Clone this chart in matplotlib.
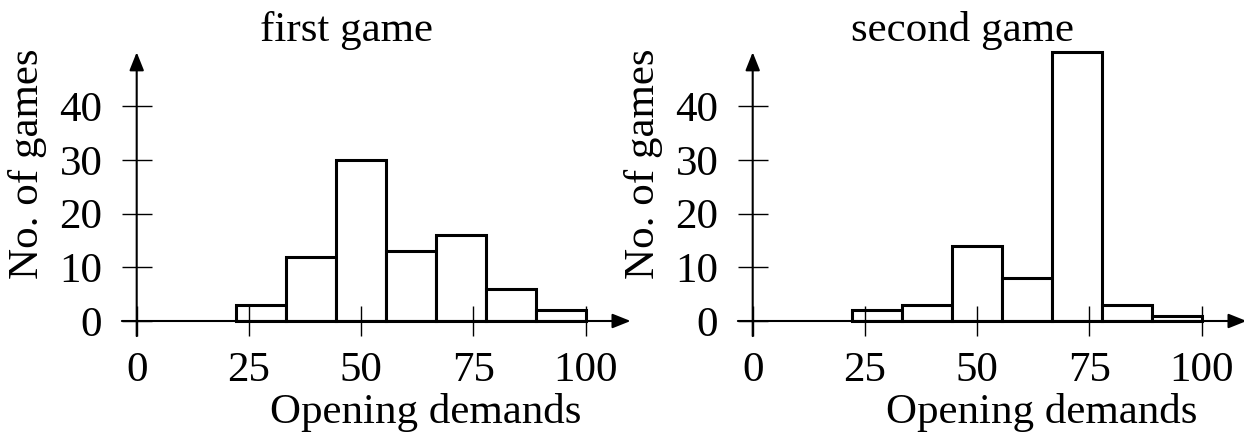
import numpy as np
import matplotlib
matplotlib.use("Agg")
import matplotlib.pyplot as plt

# histogram data
bin_edges = [22.2, 33.3, 44.4, 55.6, 66.7, 77.8, 88.9, 100.0]
first_game = [3, 12, 30, 13, 16, 6, 2]
second_game = [2, 3, 14, 8, 50, 3, 1]
titles = ["first game", "second game"]
x_ticks = [0, 25, 50, 75, 100]
y_ticks = [0, 10, 20, 30, 40]

plt.rcParams['font.family'] = ['Liberation Serif', 'DejaVu Serif']
plt.rcParams['font.size'] = 31

W, H = 1244, 436
fig = plt.figure(figsize=(W / 100, H / 100), dpi=100)

# pixel layout of the two panels (origin of data in px, scale px/unit)
sx, sy = 4.49, 5.375
origins = [136.7, 752.7]
oy = 321
xlim = (-5, 115)
ylim = (-5, 52)

for i, counts in enumerate([first_game, second_game]):
    left = origins[i] + xlim[0] * sx
    top = oy - ylim[1] * sy
    w = (xlim[1] - xlim[0]) * sx
    h = (ylim[1] - ylim[0]) * sy
    ax = fig.add_axes([left / W, 1 - (top + h) / H, w / W, h / H])
    ax.set_xlim(*xlim)
    ax.set_ylim(*ylim)
    ax.patch.set_visible(False)

    edges = np.array(bin_edges)
    ax.bar(edges[:-1], counts, width=np.diff(edges), align='edge',
           facecolor='white', edgecolor='black', linewidth=2.2, zorder=1)

    for s in ax.spines.values():
        s.set_visible(False)
    ax.spines['left'].set_position(('data', 0))
    ax.spines['bottom'].set_position(('data', 0))

    ax.set_xticks(x_ticks)
    ax.set_yticks(y_ticks)
    ax.tick_params(direction='inout', length=21.6, width=1.0, color='black')
    ax.tick_params(axis='x', pad=11)
    ax.tick_params(axis='y', pad=14)

    # axis lines with arrow heads
    arrow = dict(arrowstyle='-|>,head_length=0.55,head_width=0.22',
                 lw=1.5, color='black', mutation_scale=20,
                 shrinkA=0, shrinkB=0)
    ax.annotate('', xy=(110, 0), xytext=(-3.3, 0), arrowprops=arrow, zorder=3)
    ax.annotate('', xy=(0, 50), xytext=(0, -2.8), arrowprops=arrow, zorder=3)

    ax.text(46.8, 52.0, titles[i], ha='center', va='baseline', clip_on=False)
    ax.text(64.3, -19.0, 'Opening demands', ha='center', va='baseline',
            clip_on=False)
    ax.text(-24.3, 29.2, 'No. of games', rotation=90, ha='center',
            va='center', clip_on=False)

fig.savefig('out.png', dpi=100)
